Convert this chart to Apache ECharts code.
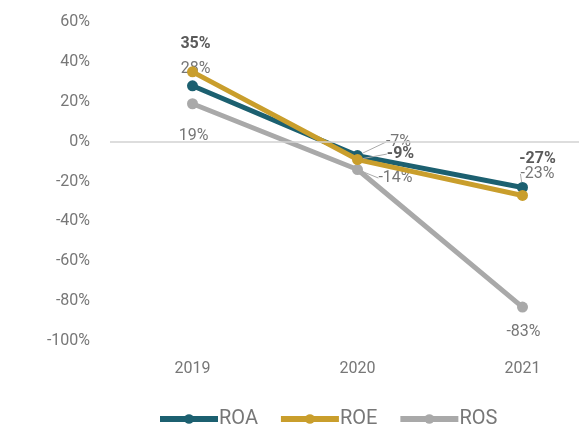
<!DOCTYPE html>
<html>
<head>
<meta charset="utf-8">
<script src="https://cdn.jsdelivr.net/npm/echarts@6/dist/echarts.min.js"></script>
<style>
  html, body { margin: 0; padding: 0; background: #fff; }
  #chart { width: 579px; height: 429px; }
</style>
</head>
<body>
<div id="chart"></div>
<script>
    // data
    var years = ['2019', '2020', '2021'];
    var roa = [28, -7, -23];
    var roe = [35, -9, -27];
    var ros = [19, -14, -83];

    // label nudges (dx, dy) per point, relative to default label spot
    var roaShift = [[3, 2], [41, 5], [15, 5]];
    var roeShift = [[3, -9], [43, 13], [15, -18]];
    var rosShift = [[1, 14], [38, -10], [1, 6]];

    var myEchart = echarts.init(document.getElementById('chart'));

    function mkData(arr, lineIdx) {
        return arr.map(function (v, i) {
            return {
                value: v,
                labelLine: { show: lineIdx.indexOf(i) >= 0 }
            };
        });
    }

    function shifter(list) {
        return function (p) {
            var s = list[p.dataIndex];
            return { dx: s[0], dy: s[1] };
        };
    }

    var labelTxt = {
        show: true,
        formatter: '{c}%',
        color: '#767676',
        fontSize: 16,
        fontFamily: 'Roboto'
    };

    var option = {
        color: ['#1c6070', '#c99e2c', '#a9a9a9'],
        textStyle: { fontFamily: 'Roboto' },
        legend: {
            bottom: -5,
            left: 152,
            itemWidth: 58,
            itemHeight: 12,
            itemGap: 20,
            data: ['ROA', 'ROE', 'ROS'],
            lineStyle: { width: 6 },
            textStyle: {
                color: '#777',
                fontSize: 20,
                padding: [0, 0, 0, -4]
            }
        },
        grid: {
            top: 22,
            bottom: 88,
            left: 110,
            right: -26,
            outerBoundsMode: 'none'
        },
        xAxis: {
            type: 'category',
            data: years,
            axisLine: { show: false, onZero: false },
            axisTick: { show: false },
            axisLabel: {
                color: '#777',
                fontSize: 16,
                margin: 20
            }
        },
        yAxis: {
            type: 'value',
            min: -100,
            max: 60,
            interval: 20,
            splitLine: { show: false },
            axisLine: { show: false },
            axisTick: { show: false },
            axisLabel: {
                color: '#777',
                fontSize: 16,
                margin: 20,
                formatter: '{value}%'
            }
        },
        series: [{
            name: 'ROA',
            type: 'line',
            data: mkData(roa, [1, 2]),
            symbol: 'circle',
            symbolSize: 11,
            lineStyle: { width: 5 },
            label: Object.assign({ position: 'top' }, labelTxt),
            labelLine: { lineStyle: { color: '#aaa', width: 1 } },
            labelLayout: shifter(roaShift),
            z: 3,
            markLine: {
                silent: true,
                symbol: 'none',
                label: { show: false },
                lineStyle: { color: '#d2d2d2', width: 1.5, type: 'solid' },
                data: [{ yAxis: 0 }]
            }
        }, {
            name: 'ROE',
            type: 'line',
            data: mkData(roe, [1]),
            symbol: 'circle',
            symbolSize: 11,
            lineStyle: { width: 5 },
            label: Object.assign({ position: 'top' }, labelTxt, { color: '#5a5a5a', fontWeight: 'bold' }),
            labelLine: { lineStyle: { color: '#aaa', width: 1 } },
            labelLayout: shifter(roeShift),
            z: 4
        }, {
            name: 'ROS',
            type: 'line',
            data: mkData(ros, [1]),
            symbol: 'circle',
            symbolSize: 11,
            lineStyle: { width: 5 },
            label: Object.assign({ position: 'bottom' }, labelTxt),
            labelLine: { lineStyle: { color: '#aaa', width: 1 } },
            labelLayout: shifter(rosShift),
            z: 2
        }]
    };

    myEchart.setOption(option);
</script>
</body>
</html>
